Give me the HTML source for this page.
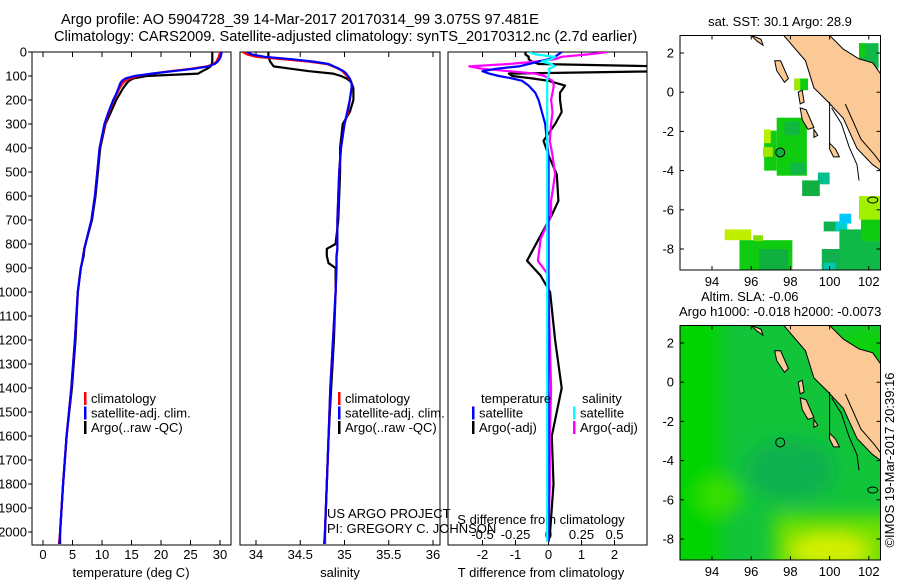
<!DOCTYPE html>
<html><head><meta charset="utf-8"><style>
html,body{margin:0;padding:0;background:#fff;}
svg text{font-family:"Liberation Sans",Arial,sans-serif;font-size:13px;fill:#000;}
</style></head><body>
<svg id="fig" width="900" height="580" viewBox="0 0 900 580" xmlns="http://www.w3.org/2000/svg">
<defs>
<clipPath id="c1"><rect x="32" y="52" width="199" height="493"/></clipPath>
<clipPath id="c2"><rect x="240" y="52" width="200" height="493"/></clipPath>
<clipPath id="c3"><rect x="448" y="52" width="199" height="493"/></clipPath>
<clipPath id="m1"><rect x="680" y="35.5" width="200.5" height="234.5"/></clipPath>
<clipPath id="m2"><rect x="680" y="325.5" width="200.5" height="234.5"/></clipPath>
<filter id="blur" x="-20%" y="-20%" width="140%" height="140%"><feGaussianBlur stdDeviation="9"/></filter>
</defs>
<text x="61" y="24" style="font-size:14.6px">Argo profile: AO 5904728_39 14-Mar-2017 20170314_99 3.075S 97.481E</text>
<text x="54" y="41" style="font-size:14.6px">Climatology: CARS2009. Satellite-adjusted climatology: synTS_20170312.nc (2.7d earlier)</text>
<g id="root"></g>
</svg>
<script>
// ---- profile data ----
const depths = [0,10,20,30,40,50,60,70,80,90,100,110,120,130,150,175,200,250,300,400,500,600,700,800,820,850,880,900,1000,1200,1400,1600,1800,2000,2050];
const tempClim = [30.0,29.9,29.8,29.6,29.4,28.9,27.8,25.0,21.5,18.5,16.0,14.8,14.0,13.5,13.0,12.5,12.0,11.2,10.5,9.6,9.2,8.8,8.2,7.2,7.0,6.8,6.6,6.4,5.9,5.4,4.8,4.0,3.4,2.9,2.7];
const tempSat = [30.3,30.2,30.1,29.9,29.6,29.1,28.0,25.5,22.0,18.5,15.5,14.0,13.4,13.1,12.8,12.4,11.9,11.1,10.4,9.6,9.2,8.8,8.2,7.2,7.0,6.8,6.6,6.4,5.9,5.4,4.8,4.0,3.4,2.9,2.8];
const tempArgo = [28.7,28.7,28.7,28.7,28.7,28.6,28.4,27.8,27.0,26.3,17.5,15.3,14.6,14.2,13.6,13.0,12.4,11.5,10.6,9.7,9.3,8.9,8.3,7.2,7.0,6.9,6.6,6.4,5.9,5.5,4.9,4.0,3.4,2.9,2.9];
const salClim = [33.85,33.9,34.0,34.3,34.6,34.8,34.87,34.93,34.98,35.0,35.03,35.05,35.07,35.08,35.08,35.07,35.06,35.04,35.0,34.96,34.94,34.93,34.92,34.92,34.92,34.91,34.91,34.91,34.9,34.87,34.84,34.82,34.8,34.78,34.78];
const salSat = [33.9,33.95,34.1,34.4,34.65,34.82,34.88,34.94,34.99,35.02,35.04,35.06,35.07,35.08,35.08,35.07,35.06,35.03,35.0,34.96,34.94,34.93,34.92,34.92,34.92,34.91,34.91,34.91,34.9,34.87,34.84,34.82,34.8,34.78,34.77];
const salArgo = [34.14,34.14,34.14,34.15,34.16,34.18,34.2,34.4,34.6,34.87,34.96,35.02,35.06,35.08,35.1,35.1,35.1,35.06,34.98,34.95,34.95,34.94,34.93,34.9,34.8,34.8,34.82,34.9,34.9,34.88,34.85,34.82,34.8,34.78,34.78];
// ---- difference data ----
const diffDepths = [0,10,20,30,40,50,60,70,80,90,100,110,120,140,170,200,250,300,370,430,510,620,680,780,870,930,1000,1200,1400,1600,1800,2000,2040];
const tDiffArgo = [-0.7,-0.7,-0.6,-0.6,-0.5,-0.3,3.5,3.5,3.5,-1.2,-1.1,-0.5,0,0.5,0.35,0.35,0.4,0.2,-0.15,0,0.25,0.3,0.1,-0.3,-0.65,-0.25,0.05,0.2,0.4,0.1,0.15,0.05,0];
const tDiffSat = [0.4,0.3,0.2,0.0,-0.3,-0.6,-0.9,-1.6,-2.0,-1.8,-1.5,-1.1,-0.8,-0.6,-0.4,-0.3,-0.2,-0.1,-0.05,0,0,0,0,0,0,0,0,0,0,0,0,0,0];
const sDiffArgo = [0.45,0.3,0.1,0.05,-0.1,-0.3,-0.6,-0.5,-0.3,-0.1,-0.03,0,0.03,0.04,0.03,0.02,0.03,0.02,0.01,0.03,0.05,0.02,0.02,-0.06,-0.08,0,0,0.01,0.02,0.01,0.01,0,0];
const sDiffSat = [-0.15,-0.1,0.05,0.02,-0.05,0.02,0.05,0.0,0.01,0,0,-0.01,-0.01,-0.01,-0.01,-0.01,-0.01,-0.01,-0.01,-0.01,-0.01,-0.01,-0.01,-0.01,-0.01,-0.01,-0.01,-0.01,-0.01,-0.01,-0.01,-0.01,-0.01];
// ---- tick labels ----
const depthTicks = [0,100,200,300,400,500,600,700,800,900,1000,1100,1200,1300,1400,1500,1600,1700,1800,1900,2000];
const tempTicks = [0,5,10,15,20,25,30];
const salTicks = [34,34.5,35,35.5,36];
const tDiffTicks = [-2,-1,0,1,2];
const sDiffTicks = ['-0.5','-0.25','0','0.25','0.5'];
const lonTicks = [94,96,98,100,102];
const latTicks = [2,0,-2,-4,-6,-8];
const satSST = 30.1, argoSST = 28.9;
const argoLon = 97.481, argoLat = -3.075;

const NS='http://www.w3.org/2000/svg';
const root=document.getElementById('root');
function mk(tag,attrs,parent){const e=document.createElementNS(NS,tag);for(const k in attrs)e.setAttribute(k,attrs[k]);(parent||root).appendChild(e);return e;}
function txt(s,x,y,anchor,parent){const t=mk('text',{x:x,y:y,'text-anchor':anchor||'start'},parent);t.textContent=s;return t;}

const dy=d=>52+d*0.24;
const tx=t=>43+t*5.9;
const sx=s=>256+(s-34)*88.5;
const tdx=t=>548.5+33*t;
const sdx=s=>548.5+132*s;

function panel(x0,x1,name){
  const r=mk('rect',{x:x0,y:52,width:x1-x0,height:493,fill:'none',stroke:'#000','stroke-width':1});
  
  
}
panel(32,231,'temperature-panel');panel(240,440,'salinity-panel');panel(448,647,'difference-panel');

const dAx=mk('g',{});


depthTicks.forEach(d=>{mk('line',{x1:28,x2:32,y1:dy(d),y2:dy(d),stroke:'#000'},dAx);txt(String(d),27,dy(d)+4.5,'end',dAx);});

function xAxis(vals,labels,fx,name,x0,x1,ly){
  const g=mk('g',{});
  
  
  vals.forEach((v,i)=>{const x=fx(v);
    mk('line',{x1:x,x2:x,y1:52,y2:57,stroke:'#000'},g);
    mk('line',{x1:x,x2:x,y1:540,y2:545,stroke:'#000'},g);
    if(ly)txt(labels[i],x,ly,'middle',g);});
  return g;
}
xAxis(tempTicks,tempTicks.map(String),tx,'temperature-x-axis',32,231,559);
xAxis(salTicks,salTicks.map(String),sx,'salinity-x-axis',240,440,559);
xAxis(tDiffTicks,tDiffTicks.map(String),tdx,'t-difference-x-axis',448,647,559);
const sAx=mk('g',{});


sDiffTicks.forEach(v=>txt(v,sdx(parseFloat(v)),539,'middle',sAx));

function lbl(s,x,y,name,anchor){const t=txt(s,x,y,anchor||'middle');return t;}
lbl('temperature (deg C)',131,577,'temperature-axis-title');
lbl('salinity',340,577,'salinity-axis-title');
lbl('T difference from climatology',541,577,'t-difference-axis-title');
lbl('S difference from climatology',541,524,'s-difference-axis-title');
lbl('US ARGO PROJECT',327,518,'pi-project-label','start');
lbl('PI: GREGORY C. JOHNSON',327,533,'pi-name-label','start');

function series(vals,dep,fx,color,clip,name){
  const pts=vals.map((v,i)=>fx(v).toFixed(1)+','+dy(dep[i]).toFixed(1)).join(' ');
  const p=mk('polyline',{points:pts,fill:'none',stroke:color,'stroke-width':2.2,'clip-path':'url(#'+clip+')','stroke-linejoin':'round'});
  
  
}
series(tempArgo,depths,tx,'#000','c1','temp-argo-line');
series(tempClim,depths,tx,'#f00','c1','temp-climatology-line');
series(tempSat,depths,tx,'#00f','c1','temp-satellite-line');
series(salArgo,depths,sx,'#000','c2','sal-argo-line');
series(salClim,depths,sx,'#f00','c2','sal-climatology-line');
series(salSat,depths,sx,'#00f','c2','sal-satellite-line');
series(tDiffArgo,diffDepths,tdx,'#000','c3','t-diff-argo-line');
series(sDiffArgo,diffDepths,sdx,'#f0f','c3','s-diff-argo-line');
series(tDiffSat,diffDepths,tdx,'#00f','c3','t-diff-satellite-line');
series(sDiffSat,diffDepths,sdx,'#0ff','c3','s-diff-satellite-line');

function legendEntry(x,y,color,label,name){
  const g=mk('g',{});
  
  
  mk('rect',{x:x,y:y-11,width:2.5,height:13,fill:color},g);
  txt(label,x+7,y,'start',g);
}
[[84,'#f00','climatology'],[84,'#00f','satellite-adj. clim.'],[84,'#000','Argo(..raw -QC)']].forEach((e,i)=>legendEntry(e[0],403+i*14.5,e[1],e[2],'temp-legend-entry-'+(i+1)));
[[338,'#f00','climatology'],[338,'#00f','satellite-adj. clim.'],[338,'#000','Argo(..raw -QC)']].forEach((e,i)=>legendEntry(e[0],403+i*14.5,e[1],e[2],'sal-legend-entry-'+(i+1)));
lbl('temperature',481,403,'diff-legend-temperature-header','start');
lbl('salinity',582,403,'diff-legend-salinity-header','start');
legendEntry(472,417.5,'#00f','satellite','diff-legend-t-satellite');
legendEntry(472,432,'#000','Argo(-adj)','diff-legend-t-argo');
legendEntry(573,417.5,'#0ff','satellite','diff-legend-s-satellite');
legendEntry(573,432,'#f0f','Argo(-adj)','diff-legend-s-argo');

// ---- maps ----
const lonX=l=>712+(l-94)*19.6;
function latYf(off){return l=>53+off+(2-l)*19.6;}
const land=[[97.57,3.0],[99.9,3.0],[100.7,2.2],[101.5,1.7],[102.2,1.5],[102.7,0.8],[102.7,-4.05],[102.2,-3.7],[101.4,-2.87],[100.7,-1.33],[99.9,-0.47],[99.2,0.22],[98.77,1.6]];
const islands=[[[97.2,1.6],[97.5,1.6],[97.9,0.7],[97.7,0.5],[97.3,1.1]],[[96.0,2.9],[96.5,2.7],[96.6,2.4],[96.3,2.6]],[[98.5,-0.8],[98.8,-0.9],[99.2,-1.8],[98.9,-1.9],[98.6,-1.4]],[[99.2,-1.9],[99.4,-2.2],[99.2,-2.3]],[[100.0,-2.6],[100.3,-2.9],[100.5,-3.3],[100.2,-3.3],[100.0,-2.9]],[[98.4,0.0],[98.6,0.1],[98.7,-0.5],[98.5,-0.6]]];
const sstPatches=[[96.66,-1.96,97.3,-4.0,'#10cc10'],[96.66,-1.9,97.0,-2.6,'#b8f000'],[96.6,-2.8,97.1,-3.3,'#a0e800'],[97.3,-1.3,98.84,-4.26,'#10cc10'],[97.7,-1.5,98.5,-2.2,'#10b840'],[98.0,-3.6,98.8,-4.2,'#10b848'],[98.2,0.7,98.9,0.1,'#10cc10'],[98.2,0.7,98.5,0.1,'#a0e800'],[99.4,-4.1,100.0,-4.7,'#00c090'],[98.6,-4.5,99.5,-5.3,'#10b040'],[94.65,-7.0,96.0,-7.55,'#c0f000'],[95.4,-7.55,98.1,-9.1,'#10cc10'],[96.1,-7.3,96.6,-7.6,'#80e000'],[96.4,-8.0,97.9,-9.1,'#10b040'],[99.6,-8.0,101.3,-9.1,'#10b050'],[99.7,-8.7,100.3,-9.1,'#00c8b0'],[99.7,-6.6,100.6,-7.1,'#10b050'],[100.3,-6.6,100.9,-7.1,'#00d0d0'],[100.5,-6.2,101.1,-6.7,'#00c8ff'],[100.5,-7.0,102.6,-9.1,'#10b848'],[101.5,-5.3,102.6,-6.5,'#a0f000'],[101.6,-6.5,102.6,-7.6,'#10cc10'],[101.5,2.5,102.5,1.2,'#10b848'],[101.5,2.5,101.8,1.8,'#10cc10']];

function drawMap(off,clip,name,isSla){
  const latY=latYf(off);
  const g=mk('g',{'clip-path':'url(#'+clip+')'});
  
  
  if(isSla){
    mk('rect',{x:680,y:35.5+off,width:201,height:235,fill:'#12c43a'},g);
    const b=mk('g',{filter:'url(#blur)'},g);
    mk('rect',{x:650,y:off+20,width:70,height:260,fill:'#00d400'},b);
    mk('ellipse',{cx:lonX(94.4),cy:latY(-5.8),rx:22,ry:18,fill:'#38e000'},b);
    mk('ellipse',{cx:lonX(98),cy:latY(-4.5),rx:45,ry:30,fill:'#10b050'},b);
    mk('rect',{x:lonX(97.2),y:latY(-6.8),width:140,height:60,fill:'#70e000'},b);
    mk('ellipse',{cx:lonX(100),cy:latY(-8.6),rx:40,ry:16,fill:'#d8f000'},b);
    mk('rect',{x:lonX(100.5),y:latY(2.9),width:60,height:50,fill:'#10d010'},b);
  } else {
    mk('rect',{x:680,y:35.5+off,width:201,height:235,fill:'#fff'},g);
    sstPatches.forEach(p=>{mk('rect',{x:lonX(p[0]),y:latY(p[1]),width:lonX(p[2])-lonX(p[0]),height:latY(p[3])-latY(p[1]),fill:p[4]},g);});
  }
  const pp=arr=>arr.map(q=>lonX(q[0]).toFixed(1)+','+latY(q[1]).toFixed(1)).join(' ');
  mk('polygon',{points:pp(land),fill:'#fbc995',stroke:'#000','stroke-width':1},g);
  islands.forEach(il=>mk('polygon',{points:pp(il),fill:'#fbc995',stroke:'#000','stroke-width':1},g));
  mk('polyline',{points:pp([[100,-0.5],[100,-2.7]]),fill:'none',stroke:'#000'},g);
  mk('polyline',{points:pp([[100.1,-0.8],[100.6,-1.6],[101.0,-2.8],[101.4,-3.7],[101.5,-4.5]]),fill:'none',stroke:'#000'},g);
  mk('polyline',{points:pp([[100.8,-0.6],[101.6,-2.4],[102.3,-3.2],[102.6,-3.6]]),fill:'none',stroke:'#000'},g);
  mk('ellipse',{cx:lonX(102.2),cy:latY(-5.5),rx:5,ry:3,fill:'none',stroke:'#000'},g);
  const dot=mk('circle',{cx:lonX(argoLon),cy:latY(argoLat),r:4.5,fill:isSla?'none':'#10b040',stroke:'#000','stroke-width':1},g);
  
  
  mk('rect',{x:680,y:35.5+off,width:200.5,height:234.5,fill:'none',stroke:'#000'});
  const ax=mk('g',{});
  
  
  lonTicks.forEach(l=>{const x=lonX(l);
    mk('line',{x1:x,x2:x,y1:35.5+off,y2:39.5+off,stroke:'#000'},ax);
    mk('line',{x1:x,x2:x,y1:266+off,y2:270+off,stroke:'#000'},ax);
    txt(String(l),x,286+off,'middle',ax);});
  latTicks.forEach(l=>{const y=latY(l);
    mk('line',{x1:680,x2:684,y1:y,y2:y,stroke:'#000'},ax);
    mk('line',{x1:876.5,x2:880.5,y1:y,y2:y,stroke:'#000'},ax);
    txt(String(l),674,y+4.5,'end',ax);});
}
drawMap(0,'m1','sst-map',false);
drawMap(290,'m2','sla-map',true);
lbl('sat. SST: '+satSST+' Argo: '+argoSST,780,26,'sst-map-title');
lbl('Altim. SLA: -0.06',701,301,'sla-map-title-1','start');
lbl('Argo h1000: -0.018 h2000: -0.0073',679,316,'sla-map-title-2','start');
const ct=txt('©IMOS 19-Mar-2017 20:39:16',0,0,'middle');
ct.setAttribute('transform','translate(894,460) rotate(-90)');


</script>
</body></html>
